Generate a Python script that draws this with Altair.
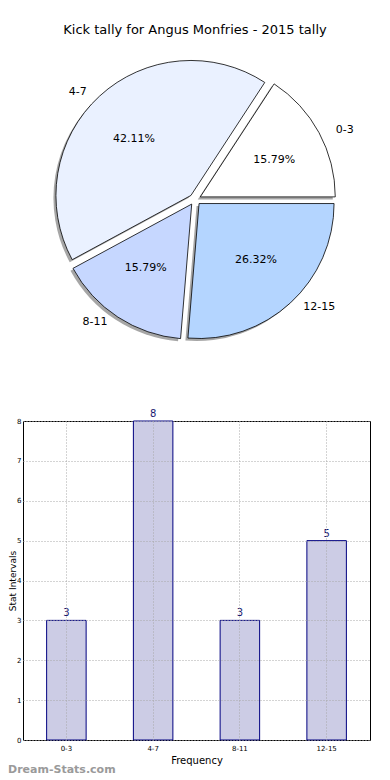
import altair as alt
import pandas as pd

categories = ["0-3", "4-7", "8-11", "12-15"]
counts = [3, 8, 3, 5]
pie_colors = ["#FFFFFF", "#EAF1FF", "#C6D7FF", "#B4D5FF"]
title_text = "Kick tally for Angus Monfries - 2015 tally"
watermark = "Dream-Stats.com"
y_ticks = [0, 1, 2, 3, 4, 5, 6, 7, 8]

total = sum(counts)
df = pd.DataFrame({"cat": categories, "count": counts, "color": pie_colors,
                   "order": list(range(len(categories)))})

# Pie geometry (pixels, relative to bar plot origin)
CX, CY = 172, -221.5
R = 135
RX, RY = 140, 128
EXP = 6

base = alt.Chart(df).transform_window(
    cum="sum(count)", sort=[alt.SortField("order")]
).transform_calculate(
    start="(datum.cum - datum.count) / %d" % total,
    end="datum.cum / %d" % total,
).transform_calculate(
    t0="PI/2 - 2*PI*datum.end",
    t1="PI/2 - 2*PI*datum.start",
    mid="PI*(datum.start + datum.end)",
).transform_calculate(
    px="%f + %f*cos(datum.mid)" % (CX, EXP),
    py="%f - %f*sin(datum.mid)" % (CY, EXP * RY / RX),
).transform_calculate(
    lx="datum.px + 1.1*%f*cos(datum.mid)" % RX,
    ly="datum.py - 1.1*%f*sin(datum.mid)" % RY,
    qx="datum.px + 0.6*%f*cos(datum.mid)" % RX,
    qy="datum.py - 0.6*%f*sin(datum.mid)" % RY,
    pct="format(100*datum.count/%d, '.2f') + '%%'" % total,
    right="cos(datum.mid) < 0",
)

shadow = base.mark_arc(radius=R, fill="#4d4d4d", opacity=0.5, xOffset=-2.5, yOffset=2.5).encode(
    x=alt.X("px:Q", scale=None, axis=None),
    y=alt.Y("py:Q", scale=None, axis=None),
    theta=alt.Theta("t0:Q", scale=None, stack=None),
    theta2="t1:Q",
)

slices = base.mark_arc(radius=R, stroke="black", strokeWidth=0.8).encode(
    x=alt.X("px:Q", scale=None, axis=None),
    y=alt.Y("py:Q", scale=None, axis=None),
    theta=alt.Theta("t0:Q", scale=None, stack=None),
    theta2="t1:Q",
    fill=alt.Fill("color:N", scale=None, legend=None),
)

lab_right = base.transform_filter("!datum.right").mark_text(
    align="left", baseline="middle", font="DejaVu Sans", fontSize=11, color="black"
).encode(x=alt.X("lx:Q", scale=None, axis=None), y=alt.Y("ly:Q", scale=None, axis=None), text="cat:N")

lab_left = base.transform_filter("datum.right").mark_text(
    align="right", baseline="middle", font="DejaVu Sans", fontSize=11, color="black"
).encode(x=alt.X("lx:Q", scale=None, axis=None), y=alt.Y("ly:Q", scale=None, axis=None), text="cat:N")

pcts = base.mark_text(
    align="center", baseline="middle", font="DejaVu Sans", fontSize=11, color="black"
).encode(x=alt.X("qx:Q", scale=None, axis=None), y=alt.Y("qy:Q", scale=None, axis=None), text="pct:N")

title_mark = alt.Chart(pd.DataFrame({"t": [title_text]})).mark_text(
    align="center", baseline="middle", font="DejaVu Sans", fontSize=13, color="black"
).encode(x=alt.value(172), y=alt.value(-391), text="t:N")

wm = alt.Chart(pd.DataFrame({"t": [watermark]})).mark_text(
    align="left", baseline="middle", font="DejaVu Sans", fontSize=11, color="#9a9a9a", fontWeight="bold"
).encode(x=alt.value(-15), y=alt.value(349), text="t:N")

pie = alt.layer(shadow, slices, lab_right, lab_left, pcts, title_mark, wm)

xenc = alt.X("cat:N", sort=categories, title="Frequency",
             scale=alt.Scale(paddingInner=0, paddingOuter=0),
             axis=alt.Axis(labelAngle=0, labelFont="DejaVu Sans", labelFontSize=7, labelColor="black",
                           titleFont="DejaVu Sans", titleFontSize=10, titleFontWeight="normal", titleColor="black",
                           titlePadding=4, labelPadding=4,
                           grid=True, gridColor="#a8a8a8", gridDash=[1, 2], gridWidth=1,
                           ticks=False, domain=False, zindex=1))
yenc = alt.Y("count:Q", title="Stat Intervals",
             scale=alt.Scale(domain=[0, 8], nice=False),
             axis=alt.Axis(values=y_ticks, labelOverlap=False,
                           labelFont="DejaVu Sans", labelFontSize=7, labelColor="black",
                           titleFont="DejaVu Sans", titleFontSize=9, titleFontWeight="normal", titleColor="black",
                           titleX=-15, titleBaseline="top", labelPadding=2,
                           grid=True, gridColor="#a8a8a8", gridDash=[1, 2], gridWidth=1,
                           ticks=False, domain=False, zindex=1))

bars = alt.Chart(df).mark_bar(width=39.5, fill="#CCCCE5", stroke="#000080", strokeWidth=1).encode(
    x=xenc, y=yenc)

bar_labels = alt.Chart(df).mark_text(
    baseline="bottom", dy=-2, font="DejaVu Sans", fontSize=10, color="#1a1a70"
).encode(x=xenc, y=yenc, text="count:Q")

barchart = alt.layer(bars, bar_labels)

chart = alt.layer(barchart, pie).resolve_scale(
    x="independent", y="independent"
).properties(
    width=347, height=319,
    padding={"left": 15, "top": 413, "right": 12, "bottom": 39},
    autosize=alt.AutoSizeParams(type="none"),
).configure_view(stroke="black", strokeWidth=1)

chart.save("out.html", embed_options={"renderer": "svg", "actions": False})
